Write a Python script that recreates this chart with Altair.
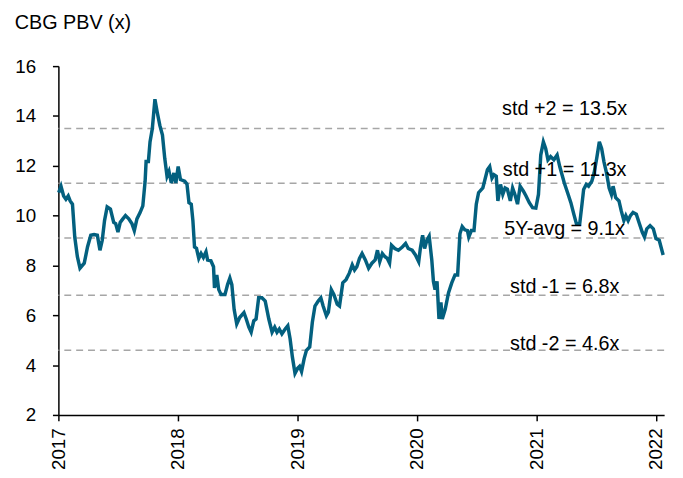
import altair as alt
import pandas as pd

dates = [
    "2017-01-02", "2017-01-09", "2017-01-17", "2017-01-24", "2017-01-31", "2017-02-06", "2017-02-13",
    "2017-02-20", "2017-02-28", "2017-03-08", "2017-03-21", "2017-03-31", "2017-04-10", "2017-04-20",
    "2017-04-30", "2017-05-08", "2017-05-15", "2017-05-22", "2017-05-30", "2017-06-09", "2017-06-19",
    "2017-06-25", "2017-07-02", "2017-07-09", "2017-07-17", "2017-07-25", "2017-08-04", "2017-08-14",
    "2017-08-21", "2017-08-29", "2017-09-08", "2017-09-16", "2017-09-23", "2017-09-26", "2017-10-03",
    "2017-10-08", "2017-10-15", "2017-10-23", "2017-10-30", "2017-11-07", "2017-11-15", "2017-11-22",
    "2017-11-29", "2017-12-05", "2017-12-12", "2017-12-20", "2017-12-26", "2018-01-02", "2018-01-09",
    "2018-01-22", "2018-01-29", "2018-02-04", "2018-02-11", "2018-02-16", "2018-02-21", "2018-02-27",
    "2018-03-06", "2018-03-13", "2018-03-20", "2018-03-28", "2018-04-02", "2018-04-12", "2018-04-20",
    "2018-04-23", "2018-04-30", "2018-05-06", "2018-05-13", "2018-05-25", "2018-06-02", "2018-06-09",
    "2018-06-15", "2018-06-22", "2018-06-30", "2018-07-09", "2018-07-22", "2018-07-29", "2018-08-06",
    "2018-08-13", "2018-08-21", "2018-08-28", "2018-09-05", "2018-09-15", "2018-09-25", "2018-10-06",
    "2018-10-16", "2018-10-24", "2018-10-31", "2018-11-07", "2018-11-15", "2018-11-25", "2018-12-03",
    "2018-12-10", "2018-12-17", "2018-12-25", "2019-01-02", "2019-01-08", "2019-01-14", "2019-01-22",
    "2019-01-29", "2019-02-08", "2019-02-16", "2019-02-24", "2019-03-06", "2019-03-14", "2019-03-21",
    "2019-03-31", "2019-04-06", "2019-04-15", "2019-04-23", "2019-05-03", "2019-05-10", "2019-05-20",
    "2019-05-30", "2019-06-09", "2019-06-18", "2019-06-25", "2019-07-02", "2019-07-10", "2019-07-18",
    "2019-07-28", "2019-08-07", "2019-08-17", "2019-08-27", "2019-09-03", "2019-09-10", "2019-09-18",
    "2019-09-26", "2019-10-03", "2019-10-10", "2019-10-16", "2019-10-26", "2019-11-06", "2019-11-18",
    "2019-11-28", "2019-12-06", "2019-12-18", "2019-12-28", "2020-01-07", "2020-01-12", "2020-01-19",
    "2020-01-25", "2020-02-01", "2020-02-08", "2020-02-16", "2020-02-21", "2020-02-26", "2020-03-03",
    "2020-03-09", "2020-03-15", "2020-03-19", "2020-03-28", "2020-04-07", "2020-04-17", "2020-04-27",
    "2020-05-05", "2020-05-12", "2020-05-19", "2020-05-27", "2020-06-04", "2020-06-08", "2020-06-16",
    "2020-06-24", "2020-07-01", "2020-07-08", "2020-07-21", "2020-08-04", "2020-08-11", "2020-08-18",
    "2020-08-24", "2020-08-31", "2020-09-05", "2020-09-13", "2020-09-20", "2020-09-27", "2020-10-04",
    "2020-10-13", "2020-10-20", "2020-10-27", "2020-11-04", "2020-11-12", "2020-11-22", "2020-11-30",
    "2020-12-10", "2020-12-20", "2020-12-30", "2021-01-07", "2021-01-14", "2021-01-22", "2021-01-29",
    "2021-02-05", "2021-02-13", "2021-02-23", "2021-03-05", "2021-03-13", "2021-03-20", "2021-03-27",
    "2021-04-06", "2021-04-16", "2021-04-25", "2021-05-03", "2021-05-13", "2021-05-20", "2021-05-25",
    "2021-06-02", "2021-06-09", "2021-06-19", "2021-06-26", "2021-07-04", "2021-07-12", "2021-07-19",
    "2021-07-26", "2021-08-03", "2021-08-11", "2021-08-18", "2021-08-23", "2021-08-31", "2021-09-10",
    "2021-09-17", "2021-09-25", "2021-10-01", "2021-10-08", "2021-10-15", "2021-10-23", "2021-11-02",
    "2021-11-10", "2021-11-20", "2021-11-27", "2021-12-04", "2021-12-14", "2021-12-24", "2022-01-01",
    "2022-01-11", "2022-01-23",
]

pbv = [
    10.92, 11.18, 10.79, 10.66, 10.79, 10.59, 10.46,
    9.14, 8.35, 7.89, 8.09, 8.74, 9.21, 9.24,
    9.21, 8.61, 9.01, 9.80, 10.35, 10.26, 9.73,
    9.68, 9.34, 9.73, 9.87, 10.00, 9.87, 9.67,
    9.40, 9.87, 10.13, 10.39, 11.38, 12.17, 12.17,
    12.96, 13.49, 14.67, 14.15, 13.62, 13.23, 12.30,
    11.58, 11.77, 11.31, 11.71, 11.31, 11.97, 11.45,
    11.38, 11.26, 10.52, 10.46, 9.80, 8.74, 8.69,
    8.28, 8.48, 8.32, 8.55, 8.22, 8.19, 7.95,
    7.10, 7.62, 7.03, 6.83, 6.83, 7.23, 7.49,
    7.23, 6.24, 5.65, 5.91, 6.11, 5.85, 5.52,
    5.32, 5.78, 5.85, 6.70, 6.70, 6.57, 5.85,
    5.32, 5.52, 5.32, 5.45, 5.25, 5.45, 5.58,
    5.06, 4.33, 3.67, 3.87, 3.95, 3.74, 4.26,
    4.59, 4.73, 5.72, 6.37, 6.57, 6.70, 6.37,
    5.98, 6.12, 7.03, 6.83, 6.44, 6.37, 7.30,
    7.43, 7.69, 8.02, 7.82, 7.95, 8.28, 8.48,
    8.22, 7.89, 8.09, 8.22, 8.61, 8.15, 8.48,
    8.35, 8.28, 8.09, 8.81, 8.68, 8.61, 8.74,
    8.88, 8.68, 8.61, 8.42, 8.15, 8.68, 9.21,
    8.68, 9.01, 9.17, 8.22, 7.36, 7.03, 7.36,
    5.85, 6.52, 5.85, 6.24, 6.90, 7.30, 7.62,
    7.62, 9.27, 9.56, 9.43, 9.40, 9.14, 9.40,
    9.40, 10.46, 10.92, 11.11, 11.84, 11.97, 11.51,
    11.64, 11.58, 10.59, 11.25, 10.85, 11.11, 11.06,
    10.59, 11.11, 10.85, 10.46, 11.18, 10.98, 10.79,
    10.52, 10.32, 10.30, 10.85, 12.43, 12.96, 12.70,
    12.24, 12.37, 12.24, 12.43, 11.97, 11.64, 11.31,
    10.92, 10.52, 10.06, 9.67, 9.67, 10.46, 11.05,
    11.25, 11.18, 11.38, 11.71, 12.30, 12.96, 12.70,
    12.17, 11.71, 11.11, 10.85, 11.18, 10.72, 10.59,
    10.19, 9.80, 10.00, 9.80, 10.00, 10.13, 10.06,
    9.73, 9.34, 9.14, 9.47, 9.60, 9.47, 9.08,
    9.01, 8.42,
]

level_values = [13.5, 11.3, 9.1, 6.8, 4.6]
label_texts = ["std +2 = 13.5x", "std +1 = 11.3x", "5Y-avg = 9.1x", "std -1 = 6.8x", "std -2 = 4.6x"]
label_y = [14.28, 11.84, 9.47, 7.14, 4.83]
label_date = "2021-03-28"
year_ticks = [2017, 2018, 2019, 2020, 2021, 2022]
y_ticks = [2, 4, 6, 8, 10, 12, 14, 16]

FONT = "Liberation Sans"
LINE_COLOR = "#03607f"

df = pd.DataFrame({"date": pd.to_datetime(dates), "pbv": pbv})
levels = pd.DataFrame({"level": level_values})
labels = pd.DataFrame({"date": pd.to_datetime([label_date] * len(label_texts)),
                       "y": label_y, "text": label_texts})

x_scale = alt.Scale(domain=[alt.DateTime(year=2017, month=1, date=1),
                            alt.DateTime(year=2022, month=1, date=26)])
y_scale = alt.Scale(domain=[2, 16], nice=False, zero=False)

x_axis = alt.Axis(values=[alt.DateTime(year=y, month=1, date=1) for y in year_ticks],
                  format="%Y", labelAngle=270, title=None, grid=False,
                  tickSize=6, labelPadding=7, labelFontSize=19, labelFont=FONT,
                  labelColor="black", domainColor="black", tickColor="black",
                  domainWidth=1.5, tickWidth=1.5, labelFlush=False, labelOverlap=False)
y_axis = alt.Axis(values=y_ticks, title=None, grid=False, tickSize=6, labelPadding=17,
                  labelFontSize=19, labelFont=FONT, labelColor="black",
                  domainColor="black", tickColor="black", domainWidth=1.5, tickWidth=1.5)

rules = alt.Chart(levels).mark_rule(color="#a6a6a6", strokeDash=[7, 5], strokeWidth=1.5).encode(
    y=alt.Y("level:Q", scale=y_scale, axis=y_axis)
)

line = alt.Chart(df).mark_line(color=LINE_COLOR, strokeWidth=3.5).encode(
    x=alt.X("date:T", scale=x_scale, axis=x_axis),
    y=alt.Y("pbv:Q", scale=y_scale, axis=y_axis),
)

text = alt.Chart(labels).mark_text(font=FONT, fontSize=20, color="black", align="center",
                                   baseline="middle").encode(
    x=alt.X("date:T", scale=x_scale),
    y=alt.Y("y:Q", scale=y_scale),
    text="text:N",
)

chart = alt.layer(rules, line, text).properties(
    width=613,
    height=353,
    autosize=alt.AutoSizeParams(type="none"),
    padding={"left": 51, "top": 56, "right": 11, "bottom": 61},
    title=alt.Title("CBG PBV (x)", anchor="start", frame="bounds", fontSize=20,
                    font=FONT, fontWeight="normal", color="black", offset=25),
).configure_view(stroke=None)

chart.save("out.html", embed_options={"renderer": "svg", "actions": False})
